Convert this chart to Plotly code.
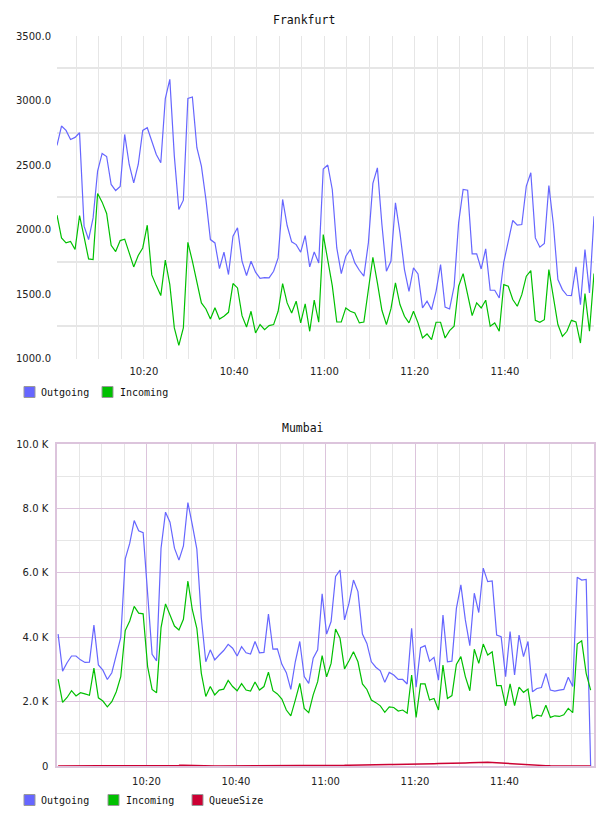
import pandas as pd
import plotly.graph_objects as go

# ---------------- data ----------------
frankfurt_outgoing = [2652, 2802, 2768, 2698, 2714, 2750, 2026, 1922, 2090, 2453,
                      2590, 2566, 2349, 2302, 2333, 2737, 2504, 2362, 2504, 2768,
                      2789, 2685, 2582, 2517, 3014, 3164, 2569, 2155, 2227, 3016,
                      3027, 2634, 2491, 2233, 1922, 1896, 1697, 1824, 1651, 1948,
                      2013, 1754, 1643, 1754, 1669, 1622, 1627, 1625, 1676, 1780,
                      2233, 2031, 1904, 1883, 1824, 1953, 1710, 1826, 1741, 2468,
                      2500, 2310, 1857, 1658, 1793, 1845, 1741, 1684, 1638, 1896,
                      2357, 2478, 2039, 1676, 1754, 2207, 1974, 1689, 1521, 1702,
                      1656, 1392, 1444, 1379, 1521, 1728, 1399, 1384, 1560, 2052,
                      2310, 2305, 1811, 1811, 1694, 1850, 1529, 1529, 1469, 1746,
                      1922, 2070, 2034, 2039, 2337, 2440, 1935, 1863, 1891, 2341,
                      2039, 1612, 1534, 1490, 1488, 1710, 1418, 1845, 1508, 2103]
frankfurt_incoming = [2111, 1935, 1896, 1907, 1845, 2108, 1943, 1772, 1767, 2279,
                      2212, 2124, 1878, 1829, 1914, 1925, 1819, 1710, 1798, 1857,
                      2033, 1648, 1565, 1488, 1762, 1573, 1237, 1102, 1237, 1901,
                      1754, 1591, 1431, 1384, 1306, 1394, 1306, 1327, 1358, 1581,
                      1547, 1332, 1244, 1366, 1198, 1263, 1224, 1255, 1263, 1366,
                      1581, 1431, 1353, 1444, 1276, 1423, 1211, 1452, 1281, 1961,
                      1770, 1565, 1283, 1283, 1392, 1366, 1353, 1276, 1283, 1534,
                      1785, 1586, 1374, 1263, 1384, 1586, 1418, 1327, 1276, 1366,
                      1276, 1159, 1190, 1146, 1281, 1281, 1159, 1216, 1250, 1560,
                      1658, 1495, 1332, 1431, 1392, 1452, 1250, 1276, 1211, 1573,
                      1560, 1457, 1405, 1495, 1638, 1682, 1296, 1281, 1301, 1689,
                      1469, 1263, 1172, 1211, 1296, 1283, 1120, 1503, 1211, 1658]

mumbai_outgoing = [4100, 2950, 3210, 3420, 3420, 3300, 3220, 3230, 4380, 3140,
                   2980, 2690, 2900, 3420, 4000, 6440, 6920, 7630, 7310, 7250,
                   5300, 3470, 3270, 6770, 7890, 7580, 6770, 6400, 6840, 8190,
                   7490, 6740, 4600, 3240, 3610, 3300, 3450, 3590, 3780, 3660,
                   3420, 3710, 3520, 3480, 3870, 3520, 3530, 4720, 3630, 3640,
                   3160, 2900, 2380, 3240, 3870, 2780, 2570, 3350, 3610, 5350,
                   4100, 4490, 5890, 6090, 4540, 5060, 5780, 5420, 4100, 3810,
                   3240, 3070, 2960, 2600, 2910, 2830, 2690, 2690, 2550, 4280,
                   2450, 3680, 3740, 3260, 3380, 2670, 4690, 3240, 3260, 4900,
                   5630, 4540, 3740, 5370, 4770, 6150, 5730, 5750, 4070, 4020,
                   2780, 4180, 2830, 4070, 3400, 3870, 2310, 2410, 2440, 2880,
                   2360, 2330, 2360, 2380, 2760, 2470, 5870, 5780, 5800, 0]
mumbai_incoming = [2700, 1980, 2130, 2340, 2180, 2280, 2240, 2200, 3040, 2120,
                   2020, 1840, 2000, 2310, 2780, 4210, 4510, 4960, 4750, 4730,
                   3090, 2380, 2280, 4300, 5040, 4690, 4350, 4230, 4560, 5750,
                   4850, 4280, 2880, 2160, 2470, 2210, 2360, 2390, 2660, 2470,
                   2340, 2560, 2360, 2330, 2610, 2360, 2470, 2920, 2340, 2240,
                   2080, 1740, 1560, 2050, 2570, 1790, 1660, 2210, 2620, 3430,
                   2770, 3190, 4260, 3970, 3020, 3270, 3550, 3240, 2550, 2380,
                   2050, 1970, 1870, 1670, 1840, 1820, 1710, 1740, 1640, 2830,
                   1510, 2550, 2550, 2050, 2100, 1740, 3140, 2100, 2190, 3160,
                   3400, 2780, 2340, 3630, 3190, 3790, 3450, 3550, 2500, 2500,
                   1870, 2550, 1880, 2450, 2290, 2390, 1480, 1580, 1550, 1890,
                   1510, 1560, 1540, 1590, 1790, 1660, 3790, 3890, 2880, 2360]
mumbai_queue = [0, 0, 0, 0, 0, 0, 0, 0, 0, 0,
                0, 0, 0, 0, 0, 0, 0, 0, 0, 0,
                0, 0, 0, 0, 0, 0, 10, 20, 25, 20,
                10, 0, 0, 0, 0, 0, 0, 0, 0, 0,
                0, 0, 0, 0, 0, 0, 0, 0, 0, 0,
                0, 0, 0, 0, 0, 0, 0, 5, 5, 10,
                10, 15, 15, 20, 20, 25, 25, 30, 30, 35,
                35, 40, 40, 45, 45, 50, 50, 55, 55, 60,
                60, 65, 65, 70, 70, 75, 75, 80, 85, 90,
                90, 95, 100, 110, 120, 130, 120, 110, 100, 90,
                80, 70, 60, 50, 40, 30, 25, 20, 15, 10,
                5, 5, 0, 0, 0, 0, 10, 20, 10, 0]

frankfurt_times = pd.date_range("2024-01-01 10:00:45", periods=len(frankfurt_outgoing), freq="60s")
mumbai_times = pd.date_range("2024-01-01 10:00:15", periods=len(mumbai_outgoing), freq="60s")

label_times = ["10:20", "10:40", "11:00", "11:20", "11:40"]
grid_times = pd.date_range("2024-01-01 10:05", "2024-01-01 11:55", freq="5min")

frankfurt_yticks = [1000, 1500, 2000, 2500, 3000, 3500]
frankfurt_ytext = ["1000.0", "1500.0", "2000.0", "2500.0", "3000.0", "3500.0"]
mumbai_yticks = [0, 2000, 4000, 6000, 8000, 10000]
mumbai_ytext = ["0", "2.0 K", "4.0 K", "6.0 K", "8.0 K", "10.0 K"]

# ---------------- style ----------------
C_OUT = "#6666ff"
C_IN = "#00c000"
C_Q = "#cc0033"
GRID = "#e6e6e6"
PURPLE = "#dcc4dc"
TICKFONT = dict(family="DejaVu Sans", size=10, color="#222")
MONO = "DejaVu Sans Mono"

W, H = 608, 816
L, R = 57, 14


def py(p):
    return 1 - p / H


def px(p):
    return (p - L) / (W - L - R)


fig = go.Figure()

fig.add_trace(go.Scatter(x=frankfurt_times, y=frankfurt_outgoing, mode="lines",
                         line=dict(color=C_OUT, width=1.2), name="Outgoing",
                         showlegend=False, xaxis="x", yaxis="y"))
fig.add_trace(go.Scatter(x=frankfurt_times, y=frankfurt_incoming, mode="lines",
                         line=dict(color=C_IN, width=1.2), name="Incoming",
                         showlegend=False, xaxis="x", yaxis="y"))
fig.add_trace(go.Scatter(x=mumbai_times, y=mumbai_outgoing, mode="lines",
                         line=dict(color=C_OUT, width=1.2), name="Outgoing",
                         showlegend=False, xaxis="x2", yaxis="y2"))
fig.add_trace(go.Scatter(x=mumbai_times, y=mumbai_incoming, mode="lines",
                         line=dict(color=C_IN, width=1.2), name="Incoming",
                         showlegend=False, xaxis="x2", yaxis="y2"))
fig.add_trace(go.Scatter(x=mumbai_times, y=mumbai_queue, mode="lines",
                         line=dict(color=C_Q, width=1.5), name="QueueSize",
                         showlegend=False, xaxis="x2", yaxis="y2"))

top_tickvals = list(grid_times)
top_ticktext = [t.strftime("%H:%M") if t.strftime("%H:%M") in label_times else "" for t in grid_times]
lab_vals = [pd.Timestamp("2024-01-01 " + t) for t in label_times]

fig.update_layout(
    width=W, height=H,
    margin=dict(l=L, r=R, t=0, b=0),
    paper_bgcolor="white", plot_bgcolor="white",
    template="none",
    showlegend=False,
    xaxis=dict(domain=[0, 1], anchor="y", type="date",
               range=[frankfurt_times[0], frankfurt_times[-1]],
               tickmode="array", tickvals=top_tickvals, ticktext=top_ticktext,
               showgrid=True, gridcolor=GRID, gridwidth=1,
               ticks="", showline=False, zeroline=False,
               tickfont=TICKFONT, ticklabelstandoff=5, automargin=False),
    yaxis=dict(domain=[py(358.5), py(36)], anchor="x",
               range=[1000, 3500],
               tickmode="array", tickvals=frankfurt_yticks, ticktext=frankfurt_ytext,
               showgrid=False, ticks="", showline=False, zeroline=False,
               minor=dict(tick0=1250, dtick=500, showgrid=True, gridcolor=GRID, gridwidth=1.5),
               tickfont=TICKFONT, ticklabelstandoff=5, automargin=False),
    xaxis2=dict(domain=[0, 1], anchor="y2", type="date",
                range=["2024-01-01 10:00:00", "2024-01-01 12:00:00"],
                tickmode="array", tickvals=lab_vals, ticktext=label_times,
                showgrid=True, gridcolor=PURPLE, gridwidth=1,
                minor=dict(dtick=300000, showgrid=True, gridcolor=GRID, gridwidth=1),
                ticks="", showline=True, mirror=True, linecolor=PURPLE, linewidth=1.5,
                zeroline=False,
                tickfont=TICKFONT, ticklabelstandoff=5, automargin=False),
    yaxis2=dict(domain=[py(766), py(444.3)], anchor="x2",
                range=[0, 10000],
                tickmode="array", tickvals=mumbai_yticks, ticktext=mumbai_ytext,
                showgrid=True, gridcolor=PURPLE, gridwidth=1,
                minor=dict(dtick=1000, showgrid=True, gridcolor=GRID, gridwidth=1),
                ticks="", showline=True, mirror=True, linecolor=PURPLE, linewidth=1.5,
                zeroline=False,
                tickfont=TICKFONT, ticklabelstandoff=5, automargin=False),
)

annotations = [
    dict(text="Frankfurt", x=px(304), y=py(20), xref="paper", yref="paper",
         xanchor="center", yanchor="middle", showarrow=False,
         font=dict(family=MONO, size=11.5, color="#111")),
    dict(text="Mumbai", x=px(303), y=py(428), xref="paper", yref="paper",
         xanchor="center", yanchor="middle", showarrow=False,
         font=dict(family=MONO, size=11.5, color="#111")),
]
shapes = []

legend_sets = [
    (392, [("Outgoing", C_OUT, 24, 39), ("Incoming", C_IN, 102, 118)]),
    (800, [("Outgoing", C_OUT, 24, 39), ("Incoming", C_IN, 108, 124), ("QueueSize", C_Q, 192, 207)]),
]
for yc, items in legend_sets:
    for name, col, sx, tx in items:
        shapes.append(dict(type="rect", xref="paper", yref="paper",
                           x0=px(sx), x1=px(sx + 11), y0=py(yc + 5.5), y1=py(yc - 5.5),
                           fillcolor=col, line=dict(color="#999999", width=1)))
        annotations.append(dict(text=name, x=px(tx), y=py(yc), xref="paper", yref="paper",
                                xanchor="left", yanchor="middle", showarrow=False,
                                font=dict(family=MONO, size=10, color="#111")))

fig.update_layout(annotations=annotations, shapes=shapes)

fig.write_html("out.html")
